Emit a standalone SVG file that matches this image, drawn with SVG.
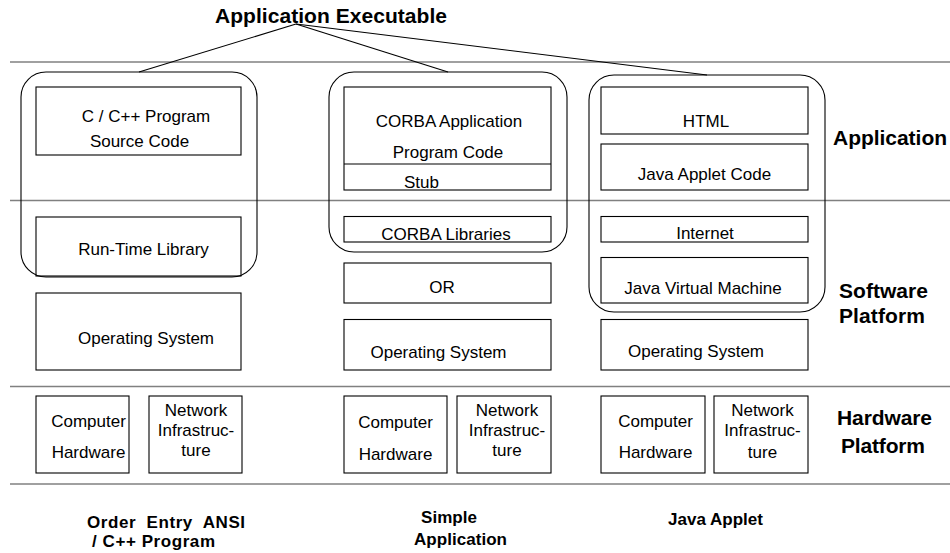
<svg xmlns="http://www.w3.org/2000/svg" width="950" height="553" viewBox="0 0 950 553">
<style>
.bg{fill:#ffffff}
.sep{stroke:#808080;stroke-width:1.6;fill:none}
.box{fill:none;stroke:#000;stroke-width:1.1}
.grp{fill:none;stroke:#000;stroke-width:1.1}
.conn{stroke:#000;stroke-width:1.1;fill:none}
.t{font-family:"Liberation Sans",Arial,sans-serif;font-size:17px;fill:#000;text-anchor:middle}
.b{font-family:"Liberation Sans",Arial,sans-serif;font-weight:bold;font-size:21px;fill:#000}
.bs{font-family:"Liberation Sans",Arial,sans-serif;font-weight:bold;font-size:17px;fill:#000}
</style>
<rect class="bg" x="0" y="0" width="950" height="553"/>
<g id="layers">
<line class="sep" x1="10" y1="62" x2="950" y2="62"/>
<line class="sep" x1="10" y1="200.5" x2="950" y2="200.5"/>
<line class="sep" x1="10" y1="386.5" x2="950" y2="386.5"/>
<line class="sep" x1="10" y1="484" x2="950" y2="484"/>
</g>
<g id="title"><text class="b" x="215" y="23" textLength="232">Application Executable</text></g>
<g id="connectors">
<line class="conn" x1="296" y1="24" x2="139" y2="72"/>
<line class="conn" x1="296" y1="24" x2="448" y2="72"/>
<line class="conn" x1="296" y1="24" x2="707" y2="75"/>
</g>
<g id="group-c"><rect class="grp" x="21" y="72" width="236" height="205" rx="25" ry="25"/></g>
<g id="group-corba"><rect class="grp" x="329" y="72" width="238" height="180" rx="25" ry="25"/></g>
<g id="group-java"><rect class="grp" x="589" y="75" width="236" height="237" rx="25" ry="25"/></g>

<g id="c-source"><rect class="box" x="36" y="87" width="205" height="68"/>
<text class="t" x="146" y="122">C / C++ Program</text>
<text class="t" x="139.5" y="147">Source Code</text></g>
<g id="c-runtime"><rect class="box" x="36" y="217" width="205" height="59"/>
<text class="t" x="143.5" y="255">Run-Time Library</text></g>
<g id="c-os"><rect class="box" x="36" y="293" width="205" height="77"/>
<text class="t" x="146" y="344">Operating System</text></g>
<g id="c-hw"><rect class="box" x="36" y="396" width="93" height="77"/>
<text class="t" x="88.5" y="427">Computer</text>
<text class="t" x="88.5" y="458">Hardware</text></g>
<g id="c-net"><rect class="box" x="149" y="396" width="93" height="77"/>
<text class="t" x="196" y="416">Network</text>
<text class="t" x="196" y="436">Infrastruc-</text>
<text class="t" x="196" y="456">ture</text></g>

<g id="corba-app"><rect class="box" x="344" y="87" width="207" height="103"/>
<line class="box" x1="344" y1="164" x2="551" y2="164"/>
<text class="t" x="449" y="127">CORBA Application</text>
<text class="t" x="448" y="158">Program Code</text>
<text class="t" x="421.5" y="188">Stub</text></g>
<g id="corba-lib"><rect class="box" x="344" y="216.5" width="207" height="25.5"/>
<text class="t" x="446" y="240">CORBA Libraries</text></g>
<g id="corba-or"><rect class="box" x="344" y="263" width="207" height="40"/>
<text class="t" x="442" y="293">OR</text></g>
<g id="corba-os"><rect class="box" x="344" y="319.5" width="207" height="50.5"/>
<text class="t" x="438.5" y="358">Operating System</text></g>
<g id="corba-hw"><rect class="box" x="344" y="396" width="103" height="77"/>
<text class="t" x="395.5" y="428">Computer</text>
<text class="t" x="395.5" y="460">Hardware</text></g>
<g id="corba-net"><rect class="box" x="457" y="396" width="94" height="77"/>
<text class="t" x="507" y="416">Network</text>
<text class="t" x="507" y="436">Infrastruc-</text>
<text class="t" x="507" y="456">ture</text></g>

<g id="java-html"><rect class="box" x="601" y="87" width="207" height="47"/>
<text class="t" x="706" y="127">HTML</text></g>
<g id="java-code"><rect class="box" x="601" y="144" width="207" height="46"/>
<text class="t" x="704.5" y="180">Java Applet Code</text></g>
<g id="java-internet"><rect class="box" x="601" y="216.5" width="207" height="25.5"/>
<text class="t" x="705" y="239">Internet</text></g>
<g id="java-jvm"><rect class="box" x="601" y="257.5" width="207" height="45.5"/>
<text class="t" x="703" y="294">Java Virtual Machine</text></g>
<g id="java-os"><rect class="box" x="601" y="319.5" width="207" height="50.5"/>
<text class="t" x="696" y="357">Operating System</text></g>
<g id="java-hw"><rect class="box" x="601" y="396" width="104" height="77"/>
<text class="t" x="655.5" y="427">Computer</text>
<text class="t" x="655.5" y="458">Hardware</text></g>
<g id="java-net"><rect class="box" x="714" y="396" width="94" height="77"/>
<text class="t" x="762.5" y="416">Network</text>
<text class="t" x="762.5" y="436">Infrastruc-</text>
<text class="t" x="762.5" y="458">ture</text></g>

<g id="layer-labels">
<text class="b" x="833" y="145" textLength="114">Application</text>
<text class="b" x="839" y="298" textLength="89">Software</text>
<text class="b" x="839" y="323" textLength="86">Platform</text>
<text class="b" x="837" y="425" textLength="95">Hardware</text>
<text class="b" x="841" y="453" textLength="84">Platform</text>
</g>
<g id="column-labels">
<text class="bs" x="87" y="528" textLength="158" xml:space="preserve">Order  Entry  ANSI</text>
<text class="bs" x="92" y="547" textLength="123">/ C++ Program</text>
<text class="bs" x="421" y="523" textLength="56">Simple</text>
<text class="bs" x="414" y="545" textLength="93">Application</text>
<text class="bs" x="668" y="525" textLength="95">Java Applet</text>
</g>
</svg>
